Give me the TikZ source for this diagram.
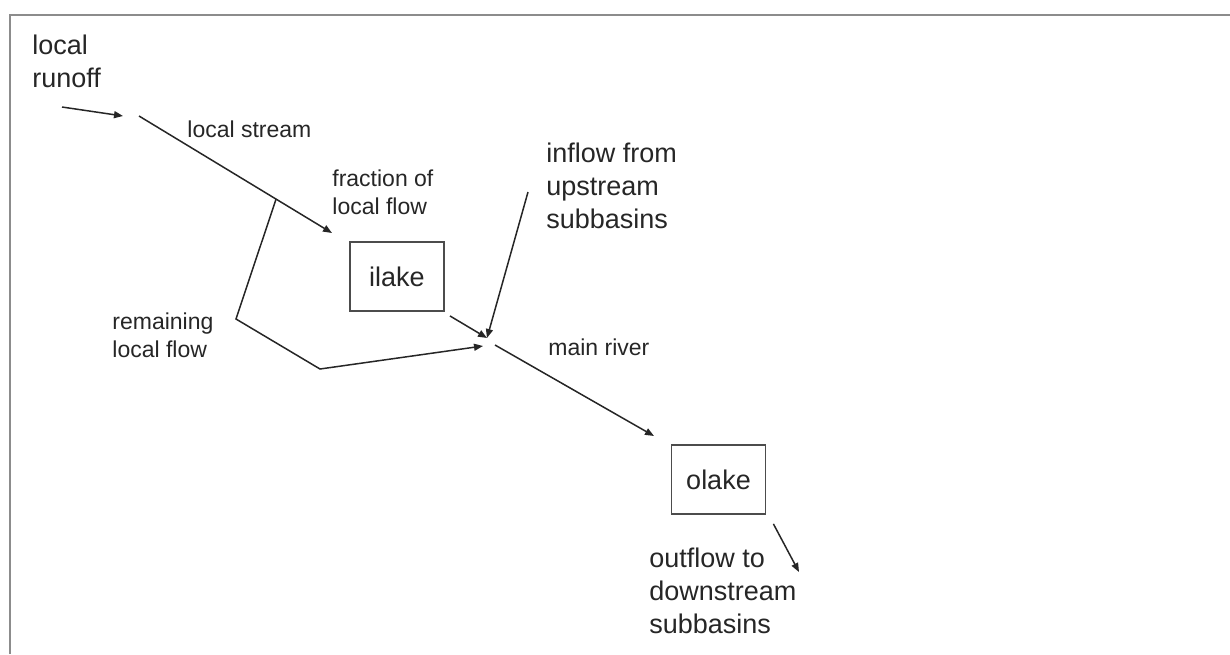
\documentclass[tikz,border=0pt]{standalone}
\usepackage{fontspec}
\setmainfont{Liberation Sans}
\usetikzlibrary{arrows.meta,calc}

\begin{document}
\begin{tikzpicture}[x=0.5pt,y=-0.5pt,
  flow/.style={draw=black!85,line width=0.75pt,-{Triangle[length=4.5pt,width=3.5pt]}},
  lake/.style={draw=black!70,line width=0.9pt,minimum width=47pt,minimum height=34.5pt,
    inner sep=0pt,text=black!85,font=\fontsize{13.5}{16.5}\selectfont},
  big/.style={inner sep=0pt,align=left,anchor=base west,text=black!85,
    font=\fontsize{13.5}{16.5}\selectfont},
  small/.style={inner sep=0pt,align=left,anchor=base west,text=black!85,
    font=\fontsize{11.5}{14}\selectfont}]
  \useasboundingbox (0,0) rectangle (1230,654);
  \draw[black!45,line width=1pt] (10,654) -- (10,15) -- (1230,15);

  \node[big] (runoff) at (32,87) {local\\runoff};
  \node[small] (streamlbl) at (187,137) {local stream};
  \node[small] (fraction) at (332,214) {fraction of\\local flow};
  \node[small] (remaining) at (112,357) {remaining\\local flow};
  \node[big] (inflow) at (546,228) {inflow from\\upstream\\subbasins};
  \node[small] (river) at (548,355) {main river};
  \node[big] (outflow) at (649,633) {outflow to\\downstream\\subbasins};
  \node[lake] (ilake) at (397,276.5) {ilake};
  \node[lake] (olake) at (718.5,479.5) {olake};

  \coordinate (runoffstart) at (62,107);
  \coordinate (runoffend) at (123,116);
  \coordinate (streamstart) at (139,116);
  \coordinate (streamend) at (332,233);
  \coordinate (split) at ($(streamstart)!0.71!(streamend)$);
  \coordinate (bendup) at (236,319);
  \coordinate (benddown) at (320,369);
  \coordinate (junction) at (487,338);
  \coordinate (junctionlow) at (483,346);
  \coordinate (inflowstart) at (528,192);
  \coordinate (riverstart) at (495,345);
  \coordinate (riverend) at (654,436);
  \coordinate (outend) at (799,572);

  \draw[flow] (runoffstart) -- (runoffend);
  \draw[flow] (streamstart) -- (streamend);
  \draw[flow] (split) -- (bendup) -- (benddown) -- (junctionlow);
  \draw[flow] ($(ilake.south east)+(5,4)$) -- (junction);
  \draw[flow] (inflowstart) -- (junction);
  \draw[flow] (riverstart) -- (riverend);
  \draw[flow] ($(olake.south east)+(7,9)$) -- (outend);
\end{tikzpicture}
\end{document}
